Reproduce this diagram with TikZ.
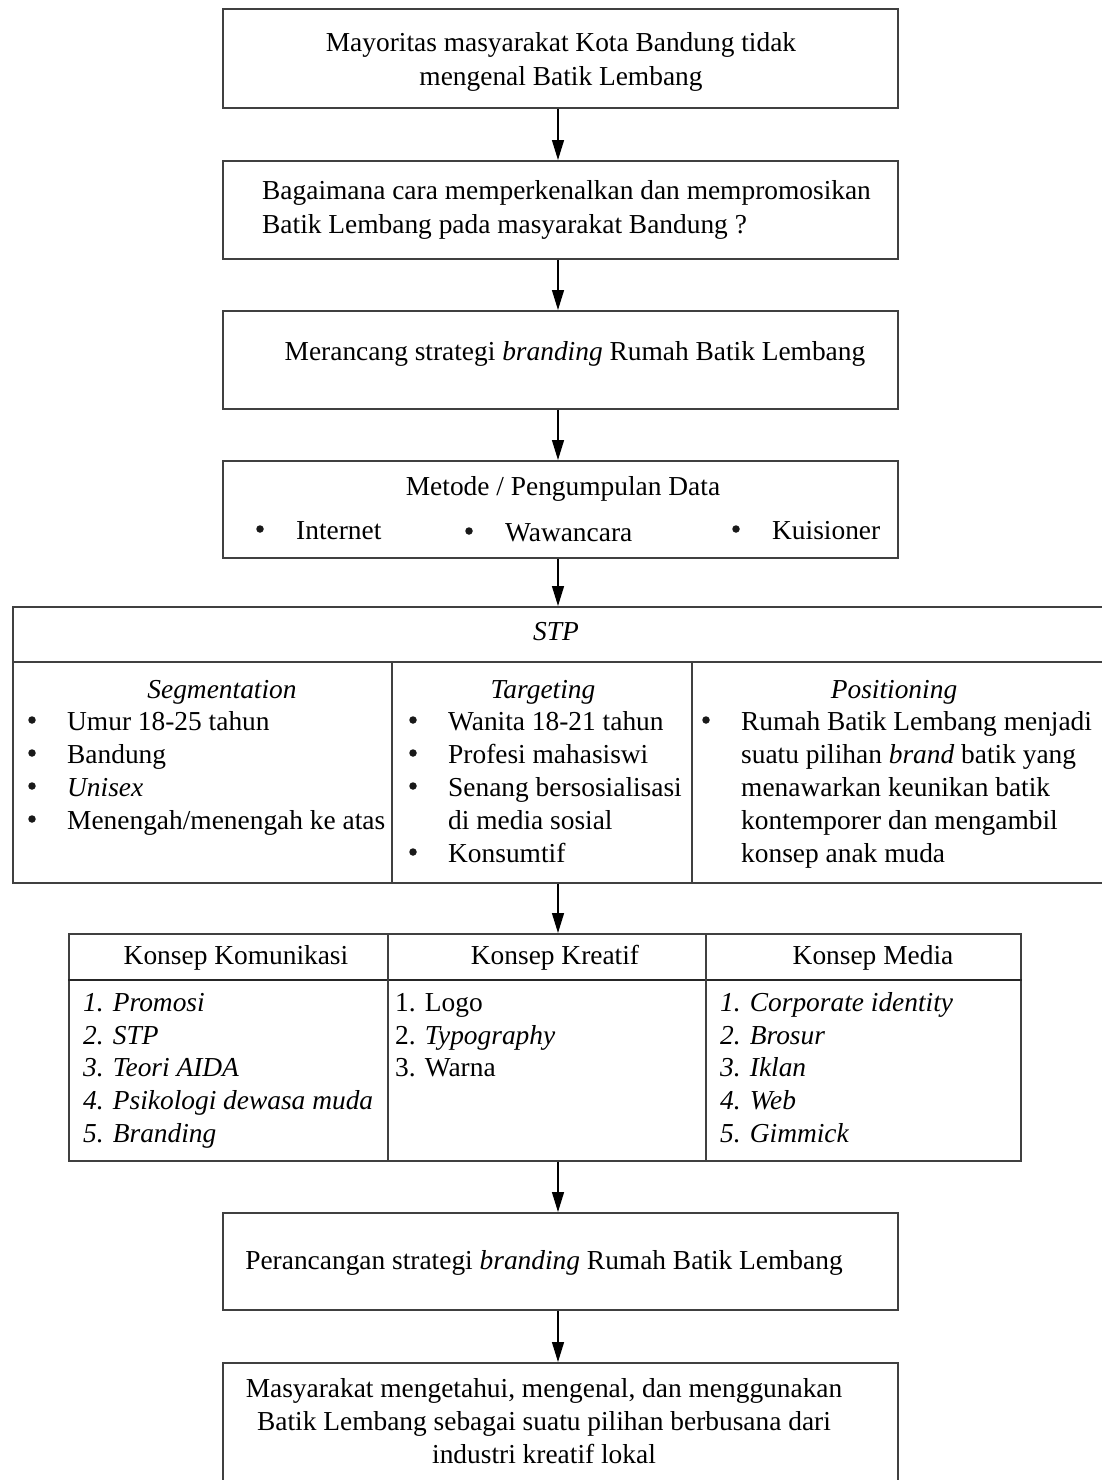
\documentclass[tikz,border=0pt]{standalone}
\usepackage{fontspec}
\setmainfont{Liberation Serif}
\usetikzlibrary{arrows.meta}
\begin{document}
\begin{tikzpicture}[x=1pt,y=-1pt,
  box/.style={draw=black!75,line width=1.6pt},
  sep/.style={draw=black!75,line width=1.6pt},
  hsep/.style={draw=black!85,line width=2.4pt},
  txt/.style={inner sep=0pt,yshift=-5pt,font=\fontsize{27.4}{33.5}\selectfont},
  bul/.style={circle,fill=black!90,inner sep=0pt,minimum size=7.5pt,yshift=3pt},
  arr/.style={draw=black,line width=1.4pt,-{Triangle[length=20pt,width=12pt]}}]
\useasboundingbox (0,0) rectangle (1101,1480);

% ---- main boxes
\node[box,anchor=north west,minimum width=675pt,minimum height=99pt] (b1) at (222,8) {};
\node[box,anchor=north west,minimum width=675pt,minimum height=98pt] (b2) at (222,160) {};
\node[box,anchor=north west,minimum width=675pt,minimum height=98pt] (b3) at (222,310) {};
\node[box,anchor=north west,minimum width=675pt,minimum height=97pt] (b4) at (222,460) {};
\node[box,anchor=north west,minimum width=1100pt,minimum height=276pt] (stp) at (12,606) {};
\node[box,anchor=north west,minimum width=952pt,minimum height=227pt] (kk) at (68,933) {};
\node[box,anchor=north west,minimum width=675pt,minimum height=97pt] (b5) at (222,1212) {};
\node[box,anchor=north west,minimum width=675pt,minimum height=150pt] (b6) at (222,1362) {};

% ---- arrows
\coordinate (ax) at (558,0);
\draw[arr] (b1.south -| ax) -- (b2.north -| ax);
\draw[arr] (b2.south -| ax) -- (b3.north -| ax);
\draw[arr] (b3.south -| ax) -- (b4.north -| ax);
\draw[arr] (b4.south -| ax) -- (stp.north -| ax);
\draw[arr] (stp.south -| ax) -- (kk.north -| ax);
\draw[arr] (kk.south -| ax) -- (b5.north -| ax);
\draw[arr] (b5.south -| ax) -- (b6.north -| ax);

% ---- texts of simple boxes
\node[txt,align=center] (t1) at (561,57) {Mayoritas masyarakat Kota Bandung tidak\\mengenal Batik Lembang};
\node[txt,align=left,anchor=west] (t2) at (262,205) {Bagaimana cara memperkenalkan dan mempromosikan\\Batik Lembang pada masyarakat Bandung ?};
\node[txt,anchor=mid] (t3) at (575,353) {Merancang strategi \textit{branding} Rumah Batik Lembang};
\node[txt,anchor=mid] (t4) at (563,488) {Metode / Pengumpulan Data};
\node[bul] (m1b) at (260,532) {};
\node[txt,anchor=mid west] (m1) at (296,532) {Internet};
\node[bul] (m2b) at (469,534) {};
\node[txt,anchor=mid west] (m2) at (505,534) {Wawancara};
\node[bul] (m3b) at (736,532) {};
\node[txt,anchor=mid west] (m3) at (772,532) {Kuisioner};

% ---- STP table
\draw[sep] ([yshift=-56pt]stp.north west) -- ([yshift=-56pt]stp.north east);
\draw[sep] (392,662) -- (392,882);
\draw[sep] (692,662) -- (692,882);
\node[txt,anchor=mid] (stpt) at (556,633) {\textit{STP}};
\node[txt,anchor=mid] (sh1) at (222,691) {\textit{Segmentation}};
\node[txt,anchor=mid] (sh2) at (543,691) {\textit{Targeting}};
\node[txt,anchor=mid] (sh3) at (894,691) {\textit{Positioning}};

\node[bul] (s1b) at (32,723) {};
\node[txt,anchor=mid west] (s1) at (67,723) {Umur 18-25 tahun};
\node[bul] (s2b) at (32,756) {};
\node[txt,anchor=mid west] (s2) at (67,756) {Bandung};
\node[bul] (s3b) at (32,789) {};
\node[txt,anchor=mid west] (s3) at (67,789) {\textit{Unisex}};
\node[bul] (s4b) at (32,822) {};
\node[txt,anchor=mid west] (s4) at (67,822) {Menengah/menengah ke atas};

\node[bul] (g1b) at (413,723) {};
\node[txt,anchor=mid west] (g1) at (448,723) {Wanita 18-21 tahun};
\node[bul] (g2b) at (413,756) {};
\node[txt,anchor=mid west] (g2) at (448,756) {Profesi mahasiswi};
\node[bul] (g3b) at (413,789) {};
\node[txt,anchor=mid west] (g3) at (448,789) {Senang bersosialisasi};
\node[txt,anchor=mid west] (g4) at (448,822) {di media sosial};
\node[bul] (g5b) at (413,855) {};
\node[txt,anchor=mid west] (g5) at (448,855) {Konsumtif};

\node[bul] (p1b) at (706,723) {};
\node[txt,anchor=mid west] (p1) at (741,723) {Rumah Batik Lembang menjadi};
\node[txt,anchor=mid west] (p2) at (741,756) {suatu pilihan \textit{brand} batik yang};
\node[txt,anchor=mid west] (p3) at (741,789) {menawarkan keunikan batik};
\node[txt,anchor=mid west] (p4) at (741,822) {kontemporer dan mengambil};
\node[txt,anchor=mid west] (p5) at (741,855) {konsep anak muda};

% ---- Konsep table
\draw[hsep] ([yshift=-47pt]kk.north west) -- ([yshift=-47pt]kk.north east);
\draw[sep] (388,933) -- (388,1160);
\draw[sep] (706,933) -- (706,1160);
\node[txt,anchor=mid] (kh1) at (236,957) {Konsep Komunikasi};
\node[txt,anchor=mid] (kh2) at (555,957) {Konsep Kreatif};
\node[txt,anchor=mid] (kh3) at (873,957) {Konsep Media};

\node[txt,anchor=mid west] (k11) at (83,1004) {\textit{1. Promosi}};
\node[txt,anchor=mid west] (k12) at (83,1037) {\textit{2. STP}};
\node[txt,anchor=mid west] (k13) at (83,1069) {\textit{3. Teori AIDA}};
\node[txt,anchor=mid west] (k14) at (83,1102) {\textit{4. Psikologi dewasa muda}};
\node[txt,anchor=mid west] (k15) at (83,1135) {\textit{5. Branding}};

\node[txt,anchor=mid west] (k21) at (395,1004) {1. Logo};
\node[txt,anchor=mid west] (k22) at (395,1037) {2. \textit{Typography}};
\node[txt,anchor=mid west] (k23) at (395,1069) {3. Warna};

\node[txt,anchor=mid west] (k31) at (720,1004) {\textit{1. Corporate identity}};
\node[txt,anchor=mid west] (k32) at (720,1037) {\textit{2. Brosur}};
\node[txt,anchor=mid west] (k33) at (720,1069) {\textit{3. Iklan}};
\node[txt,anchor=mid west] (k34) at (720,1102) {\textit{4. Web}};
\node[txt,anchor=mid west] (k35) at (720,1135) {\textit{5. Gimmick}};

% ---- last boxes
\node[txt,anchor=mid] (t5) at (544,1262) {Perancangan strategi \textit{branding} Rumah Batik Lembang};
\node[txt,anchor=mid] (t61) at (544,1390) {Masyarakat mengetahui, mengenal, dan menggunakan};
\node[txt,anchor=mid] (t62) at (544,1423) {Batik Lembang sebagai suatu pilihan berbusana dari};
\node[txt,anchor=mid] (t63) at (544,1456) {industri kreatif lokal};
\end{tikzpicture}
\end{document}
